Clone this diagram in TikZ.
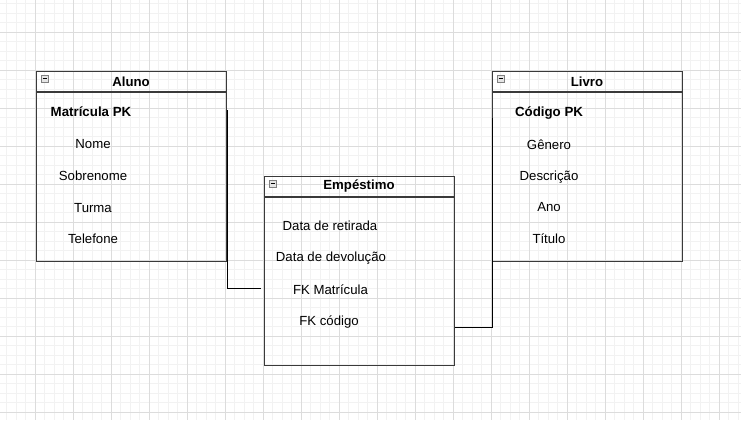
\documentclass[tikz,border=0pt]{standalone}
\usepackage{fontspec}
\setmainfont{Liberation Sans}
\usetikzlibrary{calc}
\definecolor{minorgrid}{HTML}{F2F2F2}
\definecolor{majorgrid}{HTML}{DCDCDC}
\definecolor{boxline}{HTML}{3A3A3A}
\tikzset{
  minorline/.style={draw=minorgrid, line width=0.7pt},
  majorline/.style={draw=majorgrid, line width=0.7pt},
  entity/.style={draw=boxline, line width=1.1pt, fill=none, rectangle, anchor=north west, minimum width=190pt, inner sep=0pt},
  headtext/.style={font=\fontsize{13.2}{15}\selectfont\bfseries, inner sep=0pt, anchor=center, yshift=-1pt},
  rowtext/.style={font=\fontsize{13.2}{15}\selectfont, inner sep=0pt, anchor=center, yshift=-1pt},
  pktext/.style={font=\fontsize{13.3}{15}\selectfont\bfseries, inner sep=0pt, anchor=center, yshift=-1pt},
  icon/.style={draw=gray, fill=gray!20, line width=0.7pt},
  iconbar/.style={draw=black, line width=1pt},
  link/.style={draw=black, line width=0.9pt},
}
\begin{document}
\begin{tikzpicture}[x=1pt,y=-1pt]
\useasboundingbox (0,0) rectangle (741,420);
\fill[white] (0,0) rectangle (741,420);
% grid
\foreach \i in {0,...,79} {\draw[minorline] (-3+\i*9.5,0) -- ++(0,420);}
\foreach \i in {0,...,45} {\draw[minorline] (0,-6+\i*9.5) -- ++(741,0);}
\foreach \i in {0,...,20} {\draw[majorline] (-3+\i*38,0) -- ++(0,420);}
\foreach \i in {0,...,12} {\draw[majorline] (0,-6+\i*38) -- ++(741,0);}

% Aluno
\node[entity, minimum height=190pt] (aluno) at (36,71) {};
\draw[boxline, line width=1.1pt] ($(aluno.north west)+(0,21)$) -- ($(aluno.north east)+(0,21)$);
\draw[icon] (41,75) rectangle (48,82);
\draw[iconbar] (42.5,78.5) -- (46.5,78.5);
\node[headtext] (alunoh) at (131,81) {Aluno};
\node[pktext] (matr) at (91,111) {Matrícula PK};
\node[rowtext] (nome) at (93,143) {Nome};
\node[rowtext] (sobre) at (93,175) {Sobrenome};
\node[rowtext] (turma) at (93,207) {Turma};
\node[rowtext] (tel) at (93,238) {Telefone};

% Emprestimo
\node[entity, minimum height=189pt] (emp) at (264,176) {};
\draw[boxline, line width=1.1pt] ($(emp.north west)+(0,21)$) -- ($(emp.north east)+(0,21)$);
\draw[icon] (269,180) rectangle (276,187);
\draw[iconbar] (270.5,183.5) -- (274.5,183.5);
\node[headtext] (emph) at (359,185) {Empéstimo};
\node[rowtext] (retir) at (330,225) {Data de retirada};
\node[rowtext] (devol) at (331,257) {Data de devolução};
\node[rowtext] (fkm) at (330.5,289) {FK Matrícula};
\node[rowtext] (fkc) at (329,321) {FK código};

% Livro
\node[entity, minimum height=190pt] (livro) at (492,71) {};
\draw[boxline, line width=1.1pt] ($(livro.north west)+(0,21)$) -- ($(livro.north east)+(0,21)$);
\draw[icon] (497,75) rectangle (504,82);
\draw[iconbar] (498.5,78.5) -- (502.5,78.5);
\node[headtext] (livroh) at (587,81) {Livro};
\node[pktext] (cod) at (549,112) {Código PK};
\node[rowtext] (gen) at (549,144) {Gênero};
\node[rowtext] (desc) at (549,176) {Descrição};
\node[rowtext] (ano) at (549,206) {Ano};
\node[rowtext] (tit) at (549,238) {Título};

% connectors
\coordinate (a1) at ($(aluno.north east)+(0,39)$);
\coordinate (a2) at ($(emp.west |- 0,288)+(-3,0)$);
\draw[link] (a1) |- (a2);
\coordinate (l1) at ($(livro.north west)+(0,47)$);
\coordinate (l2) at (emp.east |- 0,327);
\draw[link] (l1) |- (l2);
\end{tikzpicture}
\end{document}
